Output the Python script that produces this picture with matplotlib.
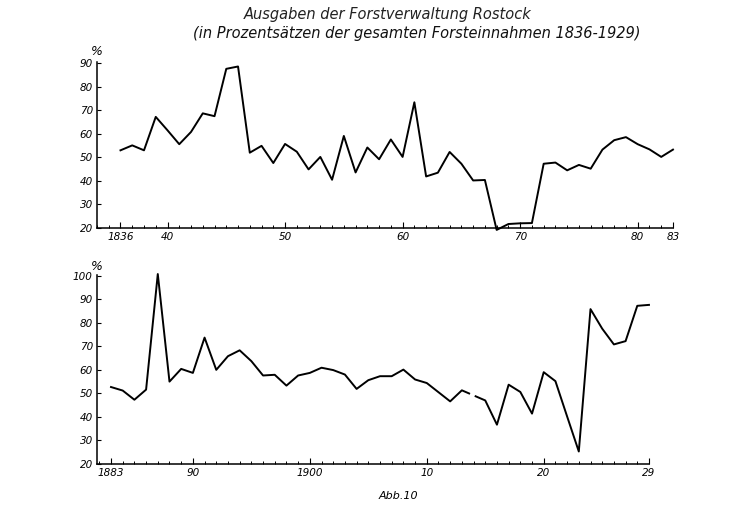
import numpy as np
import matplotlib
matplotlib.use("Agg")
import matplotlib.pyplot as plt

# Ausgaben der Forstverwaltung Rostock, % der Forsteinnahmen
years_a = list(range(1836, 1884))
pct_a = [53.0, 55.1, 53.0, 67.2, 61.5, 55.6, 60.8, 68.7, 67.5, 87.6,
         88.6, 52.0, 54.9, 47.6, 55.7, 52.4, 44.9, 50.2, 40.5, 59.1,
         43.6, 54.2, 49.2, 57.6, 50.2, 73.4, 41.9, 43.5, 52.3, 47.3,
         40.2, 40.4, 19.2, 21.7, 22.0, 22.1, 47.3, 47.8, 44.5, 46.8,
         45.2, 53.3, 57.3, 58.6, 55.6, 53.4, 50.2, 53.3]

# 1914 fehlt in der Vorlage (Luecke in der Linie)
years_b = list(range(1883, 1914)) + list(range(1915, 1930))
pct_b = [52.7, 51.2, 47.3, 51.6, 100.7, 55.0, 60.4, 58.7, 73.7, 60.0,
         65.8, 68.3, 63.7, 57.6, 57.9, 53.3, 57.6, 58.7, 60.9, 59.9,
         58.0, 51.9, 55.6, 57.3, 57.3, 60.1, 55.9, 54.4, 50.5, 46.6,
         51.3,
         47.0, 36.7, 53.7, 50.6, 41.4, 59.0, 55.2, 40.2, 25.3, 85.8,
         77.5, 70.8, 72.2, 87.2, 87.6]

ticks_a = [1836, 1840, 1850, 1860, 1870, 1880, 1883]
labels_a = ["1836", "40", "50", "60", "70", "80", "83"]
ticks_b = [1883, 1890, 1900, 1910, 1920, 1929]
labels_b = ["1883", "90", "1900", "10", "20", "29"]

yticks_a = list(range(20, 100, 10))
yticks_b = list(range(20, 110, 10))

lab_font = dict(family="DejaVu Sans", style="italic", size=7.5)

fig = plt.figure(figsize=(7.5, 5.26), dpi=100)
ax1 = fig.add_axes([0.1293, 0.5665, 0.768, 0.3156])
ax2 = fig.add_axes([0.1293, 0.1179, 0.736, 0.3593])


def style_axis(ax, xticks, xlabels, yticks):
    for s in ["top", "right"]:
        ax.spines[s].set_visible(False)
    for s in ["left", "bottom"]:
        ax.spines[s].set_linewidth(1.1)
    ax.set_xticks(xticks)
    ax.set_xticklabels(xlabels, fontdict=lab_font)
    ax.set_xticks(np.arange(int(np.ceil(ax.get_xlim()[0])), int(ax.get_xlim()[1]) + 1), minor=True)
    ax.set_yticks(yticks)
    ax.set_yticklabels([str(v) for v in yticks], fontdict=lab_font)
    ax.tick_params(axis="x", which="major", direction="in", length=4, width=0.8, pad=3)
    ax.tick_params(axis="x", which="minor", direction="in", length=2.5, width=0.7)
    ax.tick_params(axis="y", direction="in", length=3, width=0.8, pad=3)


ax1.plot(years_a, pct_a, color="black", lw=1.4, clip_on=False)
ax1.set_xlim(1834, 1883)
ax1.set_ylim(20, 90.5)
style_axis(ax1, ticks_a, labels_a, yticks_a)
ax1.text(0.0, 1.025, "%", transform=ax1.transAxes, ha="center", va="bottom",
         fontsize=9, style="italic")

ax2.plot(years_b, pct_b, color="black", lw=1.4, clip_on=False)
# Luecke zwischen 1913 und 1915 (wie in der Vorlage)
i = years_b.index(1913)
x0, x1 = years_b[i], years_b[i + 1]
y0, y1 = pct_b[i], pct_b[i + 1]
gx = [x0 + 0.35 * (x1 - x0), x0 + 0.55 * (x1 - x0)]
gy = [y0 + 0.35 * (y1 - y0), y0 + 0.55 * (y1 - y0)]
ax2.plot(gx, gy, color="white", lw=3, solid_capstyle="butt")
ax2.set_xlim(1881.8, 1929)
ax2.set_ylim(20, 100.3)
style_axis(ax2, ticks_b, labels_b, yticks_b)
ax2.text(0.0, 1.01, "%", transform=ax2.transAxes, ha="center", va="bottom",
         fontsize=9, style="italic")

fig.text(0.517, 0.972, "Ausgaben der Forstverwaltung Rostock", ha="center", va="center",
         fontsize=10.5, style="italic", color="#222222")
fig.text(0.555, 0.937, "(in Prozentsätzen der gesamten Forsteinnahmen 1836-1929)",
         ha="center", va="center", fontsize=10.5, style="italic", color="#111111")
fig.text(0.531, 0.057, "Abb.10", ha="center", va="center", fontsize=8, style="italic")

fig.savefig("out.png", dpi=100, facecolor="white")
